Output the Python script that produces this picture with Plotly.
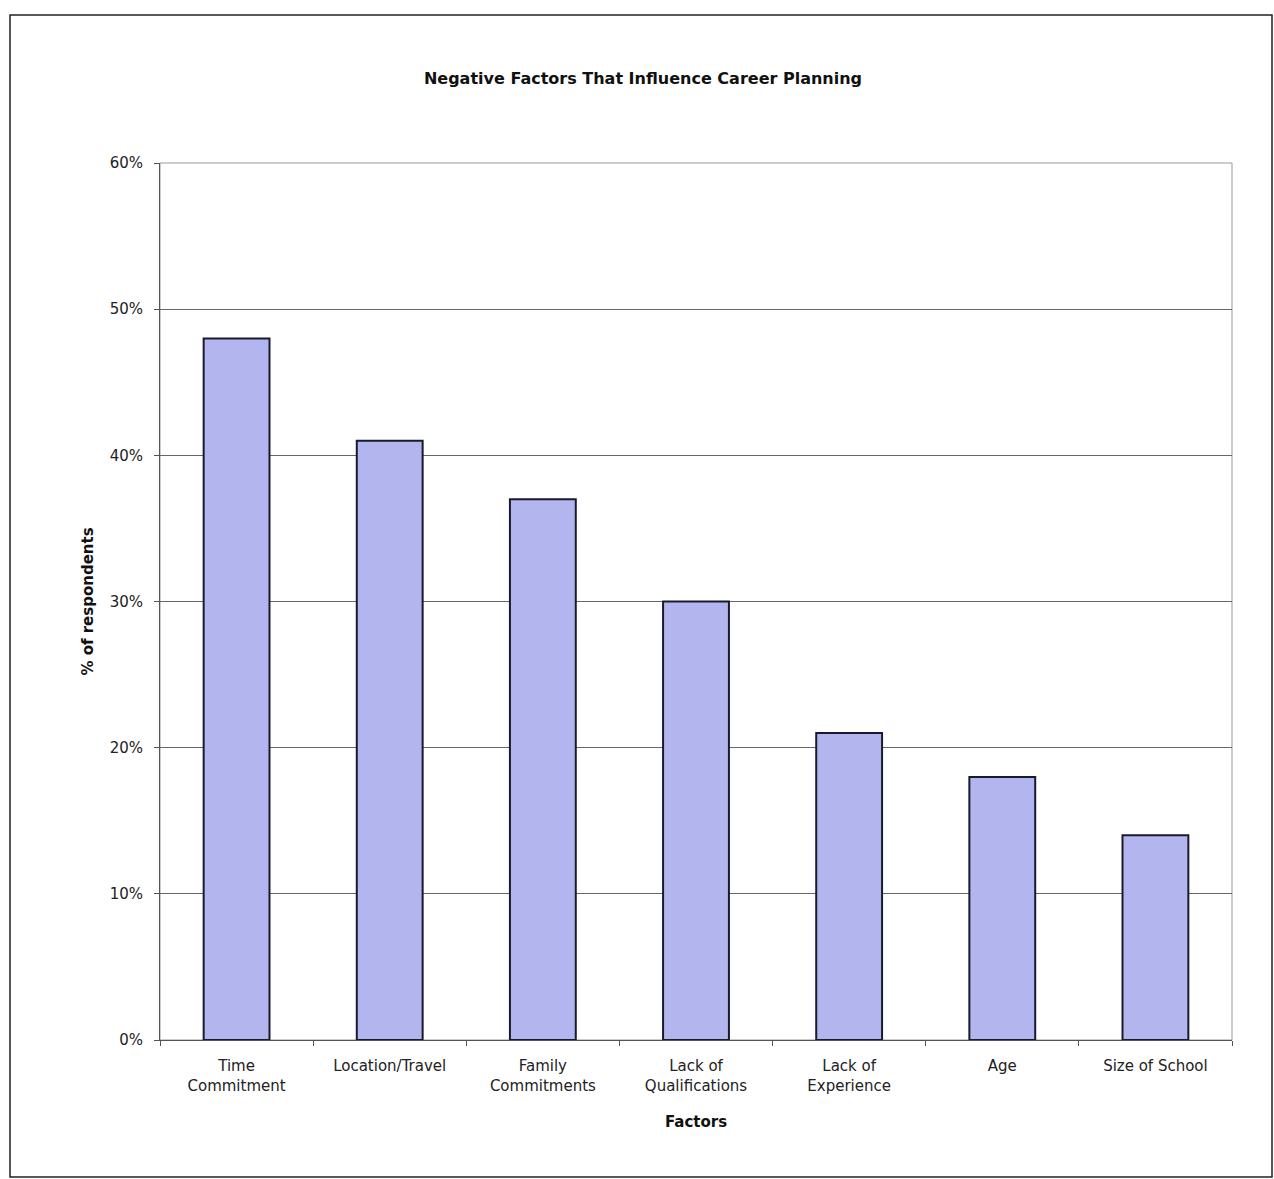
import plotly.graph_objects as go

categories = ["Time<br>Commitment", "Location/Travel", "Family<br>Commitments",
              "Lack of<br>Qualifications", "Lack of<br>Experience", "Age", "Size of School"]
values = [0.48, 0.41, 0.37, 0.30, 0.21, 0.18, 0.14]
y_ticks = [0, 0.1, 0.2, 0.3, 0.4, 0.5, 0.6]
y_tick_labels = ["0%", "10%", "20%", "30%", "40%", "50%", "60%"]

font_family = "DejaVu Sans, Verdana, sans-serif"

fig = go.Figure(go.Bar(
    x=categories, y=values,
    marker=dict(color="#b3b6ee", line=dict(color="#1a1a2e", width=2)),
))

L, R, T, B = 160, 42, 163, 139
W, H = 1274, 1179
pw, ph = W - L - R, H - T - B

def px(x):
    return (x - L) / pw

def py(y):
    return (H - B - y) / ph

fig.update_layout(
    width=W, height=H,
    margin=dict(l=L, r=R, t=T, b=B),
    paper_bgcolor="white", plot_bgcolor="white",
    bargap=0.57,
    showlegend=False,
    font=dict(family=font_family, size=14, color="#222"),
    title=dict(text="<b>Negative Factors That Influence Career Planning</b>",
               x=643 / W, xanchor="center",
               y=1 - 78 / H, yanchor="middle",
               font=dict(size=16, color="#111")),
    xaxis=dict(
        title=dict(text="<b>Factors</b>", font=dict(size=15, color="#111"), standoff=22),
        showline=True, linecolor="#555", linewidth=1,
        ticks="outside", tickcolor="#555", ticklen=5,
        tickson="boundaries",
        ticklabelstandoff=12,
        tickfont=dict(size=15, color="#222"),
        showgrid=False,
    ),
    yaxis=dict(
        title=dict(text="<b>% of respondents</b>", font=dict(size=15, color="#111"), standoff=12),
        range=[0, 0.6], tickvals=y_ticks, ticktext=y_tick_labels,
        showline=True, linecolor="#555", linewidth=1,
        ticks="outside", tickcolor="#555", ticklen=5,
        ticklabelstandoff=8,
        showgrid=True, gridcolor="#666", gridwidth=1,
        tickfont=dict(size=15, color="#222"),
        zeroline=False,
    ),
    shapes=[
        dict(type="rect", xref="paper", yref="paper", x0=0, x1=1, y0=0, y1=1,
             line=dict(color="#999", width=1), layer="below"),
        dict(type="rect", xref="paper", yref="paper",
             x0=px(10), x1=px(1272), y0=py(1177), y1=py(15),
             line=dict(color="#222", width=1.5)),
    ],
)

fig.write_html("out.html")
